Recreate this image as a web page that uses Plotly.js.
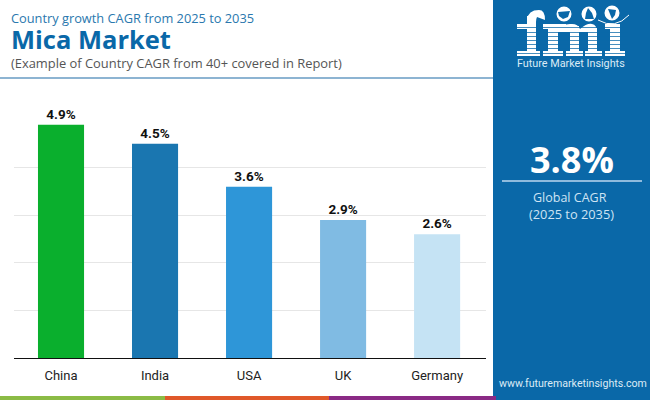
<!DOCTYPE html>
<html><head><meta charset="utf-8">
<script src="https://cdn.plot.ly/plotly-3.0.1.min.js"></script>
<style>html,body{margin:0;padding:0;background:#fff}#c{width:650px;height:400px}</style></head>
<body><div id="c"></div>
<script>
const countries = ["China","India","USA","UK","Germany"];
const cagr = [4.9,4.5,3.6,2.9,2.6];
const barColors = ["#0AAF2D","#1A76B0","#2E96D8","#80BBE3","#C5E3F4"];
const valueLabels = ["4.9%","4.5%","3.6%","2.9%","2.6%"];
const tickVals = [0,1,2,3,4,5];

const L=14,T=120,W=472,H=238;
const fx=p=>(p-L)/W, fy=p=>1-(p-T)/H;
const rect=(x0,y0,x1,y1,c)=>({type:"rect",xref:"paper",yref:"paper",x0:fx(x0),x1:fx(x1),y0:fy(y0),y1:fy(y1),fillcolor:c,line:{width:0},layer:"above"});
const circ=(cx,cy,r,c)=>({type:"circle",xref:"paper",yref:"paper",x0:fx(cx-r),x1:fx(cx+r),y0:fy(cy+r),y1:fy(cy-r),fillcolor:c,line:{width:0},layer:"above"});
const P=(x,y)=>fx(x).toFixed(5)+","+fy(y).toFixed(5);
const path=(d,fill,lineColor,lw)=>({type:"path",xref:"paper",yref:"paper",path:d,fillcolor:fill,line:{width:lw||0,color:lineColor||fill},layer:"above"});
const txt=(x,y,t,size,color,fam,anchor)=>({xref:"paper",yref:"paper",x:fx(x),y:fy(y),text:t,showarrow:false,xanchor:anchor||"left",yanchor:"middle",font:{size:size,color:color,family:fam}});
const POP='"Open Sans",sans-serif';
const PANEL="#0A68A8";

const shapes=[
  rect(0,77,493,79,"#8DB4D2"),
  rect(493,0,650,400,PANEL),
  rect(0,396,165,400,"#8BBB45"),
  rect(165,396,329,400,"#E0582A"),
  rect(329,396,496,400,"#8A2A85"),
  rect(502,180,642,182,"#8FBBDD"),
  // logo: f
  rect(527,16,536,56,"#fff"),rect(517,24,536,29,"#fff"),rect(517,51,540,56,"#fff"),
  path("M"+P(527,20)+" Q"+P(528,10)+" "+P(539,10)+" Q"+P(545,10)+" "+P(545,20)+" L"+P(537,17)+" Q"+P(536,19)+" "+P(536,22)+" Z","#fff"),
  // logo: m
  rect(543,24,566,29,"#fff"),rect(548,24,558,56,"#fff"),rect(570,26,579,56,"#fff"),rect(588,28,597,56,"#fff"),
  path("M"+P(556,30)+" Q"+P(563,23)+" "+P(572,24)+" Q"+P(578,24)+" "+P(580,29)+" Q"+P(587,23)+" "+P(592,24)+" Q"+P(597,25)+" "+P(597,32)+" L"+P(556,32)+" Z","#fff"),
  rect(543,51,563,56,"#fff"),rect(566,51,583,56,"#fff"),rect(585,51,602,56,"#fff"),
  // logo: i
  rect(605,24,620,29,"#fff"),rect(610,24,620,56,"#fff"),rect(605,51,625,56,"#fff"),
  // globes
  circ(564,14,7.5,"#fff"),circ(589,14,7.5,"#fff"),circ(612,13,7.5,"#fff"),
  path("M"+P(558,12)+" L"+P(570,11)+" L"+P(568,17)+" L"+P(563,19)+" L"+P(559,16)+" Z",PANEL),
  path("M"+P(588,8)+" L"+P(592,13)+" L"+P(594,19)+" L"+P(585,19)+" L"+P(586,13)+" Z",PANEL),
  path("M"+P(608,9)+" L"+P(616,10)+" L"+P(615,15)+" L"+P(612,19)+" L"+P(610,14)+" Z",PANEL),
  path("M"+P(598,20)+" Q"+P(615,30)+" "+P(629,15),"rgba(0,0,0,0)","#fff",1)
];
// stripes across the lower logo letters only
[27,32,36,40,44,48,53].forEach(y=>shapes.push(rect(516,y,628,y+0.7,PANEL)));

const annotations=[
  txt(9,17.5,"Country growth CAGR from 2025 to 2035",12.8,"#2A78AE",POP),
  txt(9,39.5,"<b>Mica Market</b>",25.5,"#0A68A8",POP),
  txt(9,63.5,"(Example of Country CAGR from 40+ covered in Report)",12.9,"#555",POP),
  txt(571,64,"Future Market Insights",10.8,"#DCEBF6",'Roboto,sans-serif',"center"),
  txt(572,159,"<b>3.8%</b>",36,"#fff",POP,"center"),
  txt(570,197,"Global CAGR",12.5,"#CFE4F4",POP,"center"),
  txt(571,213.5,"(2025 to 2035)",12.8,"#CFE4F4",POP,"center"),
  txt(573,383,"www.futuremarketinsights.com",10.6,"#DCEBF6",'Roboto,sans-serif',"center")
];

Plotly.newPlot("c",[{
  type:"bar",x:countries,y:cagr,width:0.49,
  marker:{color:barColors,line:{width:0}},
  text:valueLabels,textposition:"outside",cliponaxis:false,
  textfont:{family:'Roboto,sans-serif',size:13.5,color:"#111",weight:700},
  hoverinfo:"x+y"
}],{
  width:650,height:400,showlegend:false,
  margin:{l:L,r:650-L-W,t:T,b:400-T-H,pad:0},
  paper_bgcolor:"#fff",plot_bgcolor:"#fff",
  xaxis:{type:"category",range:[-0.5,4.52],showgrid:false,showline:true,linecolor:"#111",linewidth:1.2,ticks:"",
    tickfont:{family:'Roboto,sans-serif',size:13,color:"#222"},ticklen:0,ticklabelstandoff:5,automargin:false},
  yaxis:{range:[0,5],tickvals:tickVals,showticklabels:false,showgrid:true,gridcolor:"#E6E6E6",gridwidth:1,zeroline:false,showline:false,ticks:"",automargin:false},
  shapes,annotations
},{displayModeBar:false,staticPlot:true});
</script></body></html>
